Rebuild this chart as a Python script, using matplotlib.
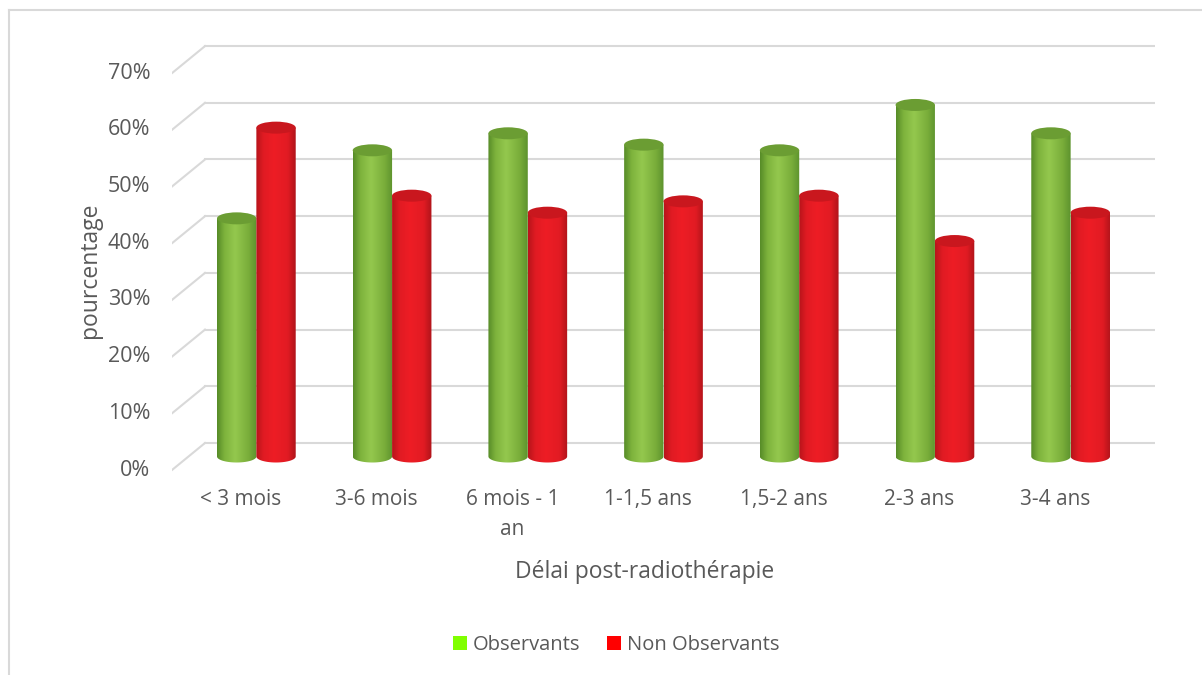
import numpy as np
import matplotlib.pyplot as plt
from matplotlib.patches import Ellipse, PathPatch, Patch
from matplotlib.path import Path
from matplotlib.colors import LinearSegmentedColormap
from matplotlib.lines import Line2D

categories = ["< 3 mois", "3-6 mois", "6 mois - 1\nan", "1-1,5 ans", "1,5-2 ans", "2-3 ans", "3-4 ans"]
observants = [42, 54, 57, 55, 54, 62, 57]
non_observants = [58, 46, 43, 45, 46, 38, 43]
yticks = [0, 10, 20, 30, 40, 50, 60, 70]

plt.rcParams['font.family'] = ['Open Sans', 'DejaVu Sans']
text_color = "#595959"
grid_color = "#d9d9d9"

W, H = 1202, 675
fig = plt.figure(figsize=(W / 100, H / 100), dpi=100)

# plot box in pixels: left/right of the floor, top/bottom with room for the caps
left_px, right_px, top_px, bottom_px = 172, 1155, 30, 475
ax = fig.add_axes([left_px / W, 1 - bottom_px / H, (right_px - left_px) / W, (bottom_px - top_px) / H])
ax.set_axis_off()

px_cat = 135.7   # pixels per category
px_pct = 5.67    # pixels per percent
depth_x = 33 / px_cat
depth_y = 27 / px_pct
zero_px = 456.5

ax.set_xlim(-0.5 - depth_x, 6.5)
ax.set_ylim(-(bottom_px - zero_px) / px_pct, (zero_px - top_px) / px_pct)

# back wall gridlines plus the slanted side-wall strokes
for v in yticks:
    ax.add_line(Line2D([-0.5 - depth_x, -0.5], [v - depth_y / 2, v + depth_y / 2],
                       color=grid_color, lw=1.5, zorder=1))
    ax.add_line(Line2D([-0.5, 6.5], [v + depth_y / 2] * 2, color=grid_color, lw=1.5, zorder=1))
    ax.text(-0.5 - depth_x - 0.16, v - depth_y / 2, f"{v}%", ha="right", va="center",
            fontsize=15.5, color=text_color)

for i, lab in enumerate(categories):
    ax.text(i - 0.235, -depth_y / 2 - 3.4, lab, ha="center", va="top", fontsize=15,
            color=text_color, linespacing=1.55)

green_cmap = LinearSegmentedColormap.from_list(
    "g", [(0, "#578c28"), (0.18, "#7db23c"), (0.45, "#94c84e"), (0.8, "#79ad3a"), (1, "#5d932e")])
red_cmap = LinearSegmentedColormap.from_list(
    "r", [(0, "#b8151b"), (0.18, "#e01b23"), (0.45, "#ee1d25"), (0.8, "#e11b23"), (1, "#b0141a")])

bar_w = 0.29
cap_h = 12 / px_pct
x = np.arange(len(categories))
x_green = x - depth_x / 2 - bar_w / 2
x_red = x - depth_x / 2 + bar_w / 2

grad = np.linspace(0, 1, 64).reshape(1, -1)


def cylinders(xs, vals, cmap, cap_color, z):
    bars = ax.bar(xs, vals, width=bar_w, color="none", zorder=z)
    for b in bars:
        x0, w, v = b.get_x(), b.get_width(), b.get_height()
        xc = x0 + w / 2
        t = np.linspace(np.pi, 2 * np.pi, 40)
        verts = [(x0, v), (x0, 0)]
        verts += list(zip(xc + w / 2 * np.cos(t), cap_h / 2 * np.sin(t)))
        verts += [(x0 + w, 0), (x0 + w, v), (x0, v)]
        body = PathPatch(Path(verts), facecolor="none", edgecolor="none")
        ax.add_patch(body)
        im = ax.imshow(grad, cmap=cmap, aspect="auto", extent=[x0, x0 + w, -cap_h, v],
                       zorder=z, interpolation="bicubic")
        im.set_clip_path(body)
        ax.add_patch(Ellipse((xc, v), w, cap_h, facecolor=cap_color, edgecolor="none", zorder=z + 0.1))


cylinders(x_green, observants, green_cmap, "#6b9d33", 3)
cylinders(x_red, non_observants, red_cmap, "#c9171e", 4)

ax.set_xlim(-0.5 - depth_x, 6.5)
ax.set_ylim(-(bottom_px - zero_px) / px_pct, (zero_px - top_px) / px_pct)

fig.text(90 / W, 1 - 270 / H, "pourcentage", rotation=90, ha="center", va="center",
         fontsize=16.5, color=text_color)
fig.text(645 / W, 1 - 572 / H, "Délai post-radiothérapie", ha="center", va="center",
         fontsize=16.5, color=text_color)

handles = [Patch(facecolor="#80ff00", label="Observants"),
           Patch(facecolor="#ff0000", label="Non Observants")]
leg = fig.legend(handles=handles, loc="center", bbox_to_anchor=(616 / W, 1 - 645 / H), ncol=2,
                 frameon=False, fontsize=14.5, handlelength=0.7, handleheight=0.7,
                 handletextpad=0.3, columnspacing=1.3)
for t in leg.get_texts():
    t.set_color(text_color)

# outer chart frame
fig.add_artist(Line2D([9 / W, 1], [1 - 10 / H] * 2, color=grid_color, lw=1.5))
fig.add_artist(Line2D([9 / W] * 2, [0, 1 - 10 / H], color=grid_color, lw=1.5))

fig.savefig("out.png", dpi=100)
